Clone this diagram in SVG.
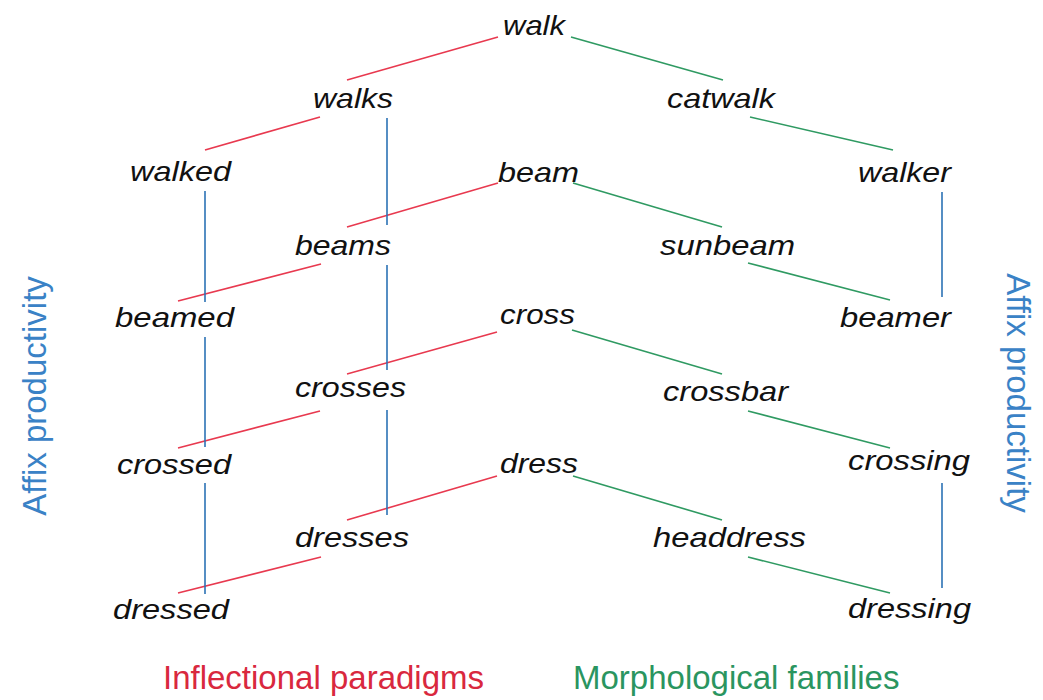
<svg xmlns="http://www.w3.org/2000/svg" width="1043" height="700" viewBox="0 0 1043 700">
  <style>
    .w { font-family: "Liberation Sans", Arial, sans-serif; font-style: italic; font-size: 28px; fill: #111; }
    .lbl { font-family: "Liberation Sans", Arial, sans-serif; font-size: 33px; }
    .infl { stroke: #e8394f; stroke-width: 1.6; fill: none; }
    .morph { stroke: #2f9a62; stroke-width: 1.6; fill: none; }
    .affix { stroke: #2b72b5; stroke-width: 1.6; fill: none; }
  </style>
  <rect width="1043" height="700" fill="#ffffff"/>

  <!-- connectors -->
  <g id="connectors">
    <!-- inflectional paradigms -->
    <line class="infl" x1="498" y1="37" x2="347" y2="80"/>
    <line class="infl" x1="320" y1="117" x2="205" y2="150"/>
    <line class="infl" x1="498" y1="183" x2="347" y2="227"/>
    <line class="infl" x1="321" y1="264" x2="178" y2="301"/>
    <line class="infl" x1="497" y1="332" x2="347" y2="374"/>
    <line class="infl" x1="320" y1="411" x2="178" y2="448"/>
    <line class="infl" x1="497" y1="476" x2="347" y2="520"/>
    <line class="infl" x1="321" y1="557" x2="178" y2="593"/>
    <!-- morphological families -->
    <line class="morph" x1="571" y1="37" x2="723" y2="80"/>
    <line class="morph" x1="750" y1="117" x2="893" y2="150"/>
    <line class="morph" x1="573" y1="183" x2="722" y2="227"/>
    <line class="morph" x1="748" y1="263" x2="890" y2="300"/>
    <line class="morph" x1="572" y1="330" x2="722" y2="374"/>
    <line class="morph" x1="748" y1="411" x2="890" y2="448"/>
    <line class="morph" x1="573" y1="476" x2="722" y2="520"/>
    <line class="morph" x1="748" y1="557" x2="890" y2="593"/>
    <!-- affix productivity -->
    <line class="affix" x1="387" y1="118" x2="387" y2="225"/>
    <line class="affix" x1="387" y1="265" x2="387" y2="370"/>
    <line class="affix" x1="387" y1="410" x2="387" y2="515"/>
    <line class="affix" x1="205" y1="191" x2="205" y2="302"/>
    <line class="affix" x1="205" y1="337" x2="205" y2="447"/>
    <line class="affix" x1="205" y1="483" x2="205" y2="594"/>
    <line class="affix" x1="942" y1="192" x2="942" y2="297"/>
    <line class="affix" x1="942" y1="483" x2="942" y2="588"/>
  </g>

  <!-- word nodes -->
  <g id="walk"><text class="w" x="503" y="35" textLength="62" lengthAdjust="spacingAndGlyphs">walk</text></g>
  <g id="walks"><text class="w" x="313" y="108" textLength="80" lengthAdjust="spacingAndGlyphs">walks</text></g>
  <g id="catwalk"><text class="w" x="667" y="108" textLength="108" lengthAdjust="spacingAndGlyphs">catwalk</text></g>
  <g id="walked"><text class="w" x="130" y="181" textLength="101" lengthAdjust="spacingAndGlyphs">walked</text></g>
  <g id="beam"><text class="w" x="498" y="182" textLength="81" lengthAdjust="spacingAndGlyphs">beam</text></g>
  <g id="walker"><text class="w" x="858" y="182" textLength="93" lengthAdjust="spacingAndGlyphs">walker</text></g>
  <g id="beams"><text class="w" x="295" y="255" textLength="96" lengthAdjust="spacingAndGlyphs">beams</text></g>
  <g id="sunbeam"><text class="w" x="660" y="255" textLength="135" lengthAdjust="spacingAndGlyphs">sunbeam</text></g>
  <g id="beamed"><text class="w" x="115" y="327" textLength="119" lengthAdjust="spacingAndGlyphs">beamed</text></g>
  <g id="cross"><text class="w" x="500" y="324" textLength="75" lengthAdjust="spacingAndGlyphs">cross</text></g>
  <g id="beamer"><text class="w" x="840" y="327" textLength="111" lengthAdjust="spacingAndGlyphs">beamer</text></g>
  <g id="crosses"><text class="w" x="295" y="397" textLength="111" lengthAdjust="spacingAndGlyphs">crosses</text></g>
  <g id="crossbar"><text class="w" x="663" y="401" textLength="125" lengthAdjust="spacingAndGlyphs">crossbar</text></g>
  <g id="crossed"><text class="w" x="117" y="474" textLength="114" lengthAdjust="spacingAndGlyphs">crossed</text></g>
  <g id="dress"><text class="w" x="500" y="473" textLength="78" lengthAdjust="spacingAndGlyphs">dress</text></g>
  <g id="crossing"><text class="w" x="848" y="470" textLength="122" lengthAdjust="spacingAndGlyphs">crossing</text></g>
  <g id="dresses"><text class="w" x="295" y="547" textLength="114" lengthAdjust="spacingAndGlyphs">dresses</text></g>
  <g id="headdress"><text class="w" x="653" y="547" textLength="153" lengthAdjust="spacingAndGlyphs">headdress</text></g>
  <g id="dressed"><text class="w" x="113" y="619" textLength="116" lengthAdjust="spacingAndGlyphs">dressed</text></g>
  <g id="dressing"><text class="w" x="848" y="618" textLength="123" lengthAdjust="spacingAndGlyphs">dressing</text></g>

  <!-- axis labels -->
  <g id="affix-left"><text class="lbl" fill="#3a82c6" transform="translate(46,396) rotate(-90)" text-anchor="middle">Affix productivity</text></g>
  <g id="affix-right"><text class="lbl" fill="#3a82c6" transform="translate(1007,393) rotate(90)" text-anchor="middle">Affix productivity</text></g>
  <g id="legend-inflectional"><text class="lbl" fill="#d9283e" x="163" y="689">Inflectional paradigms</text></g>
  <g id="legend-morphological"><text class="lbl" fill="#2a9560" x="573" y="689">Morphological families</text></g>
</svg>
